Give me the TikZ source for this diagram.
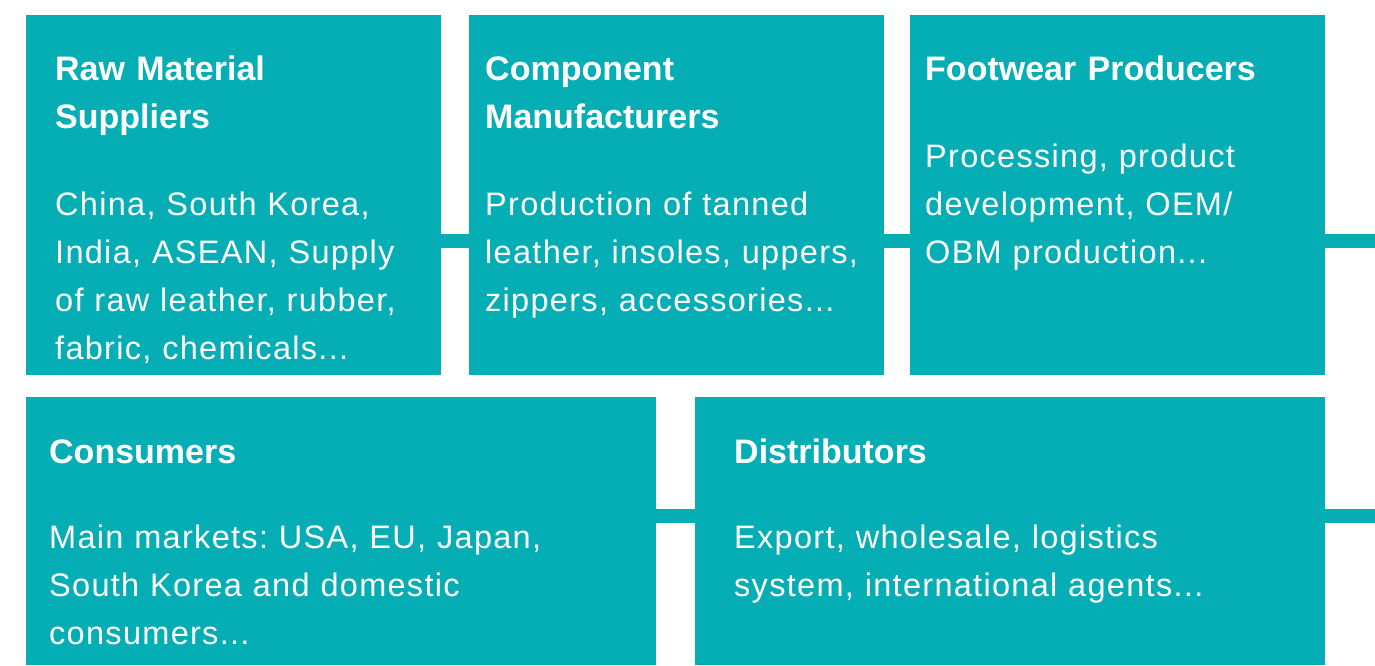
\documentclass[tikz,border=0pt]{standalone}
\usepackage{fontspec}
\setmainfont{Liberation Sans}
\newfontfamily\bodyfont[LetterSpace=4]{Liberation Sans}
\definecolor{teal}{RGB}{5,173,180}
\frenchspacing
\begin{document}
\begin{tikzpicture}[x=1pt,y=-1pt,
  box/.style={fill=teal,draw=none,inner sep=0pt,outer sep=0pt},
  conn/.style={draw=teal,line width=14pt},
  title/.style={anchor=base west,inner sep=0pt,text=white,text width=600pt,align=left,
    font=\fontsize{34}{48}\selectfont\bfseries},
  body/.style={anchor=base west,inner sep=0pt,text=white,text width=600pt,align=left,
    font=\bodyfont\fontsize{32.5}{48}\selectfont}]
\useasboundingbox (0,0) rectangle (1375,665);

% stage boxes
\node[box,minimum width=415pt,minimum height=360pt] (raw)  at (233.5,195) {};
\node[box,minimum width=415pt,minimum height=360pt] (comp) at (676.5,195) {};
\node[box,minimum width=415pt,minimum height=360pt] (prod) at (1117.5,195) {};
\node[box,minimum width=630pt,minimum height=268pt] (cons) at (341,531) {};
\node[box,minimum width=630pt,minimum height=268pt] (dist) at (1010,531) {};

% free ends of the outgoing links
\coordinate (outA) at (1375,241);
\coordinate (outB) at (1375,515.5);

% links between stages
\draw[conn] ([yshift=-46pt]raw.east) -- ([yshift=-46pt]comp.west);
\draw[conn] ([yshift=-46pt]comp.east) -- ([yshift=-46pt]prod.west);
\draw[conn] ([yshift=-46pt]prod.east) -- (outA);
\draw[conn] ([yshift=15.5pt]cons.east) -- ([yshift=15.5pt]dist.west);
\draw[conn] ([yshift=15.5pt]dist.east) -- (outB);

% titles
\node[title] (rawT)  at (55,80)   {Raw Material\\Suppliers};
\node[title] (compT) at (485,80)  {Component\\Manufacturers};
\node[title] (prodT) at (925,80)  {Footwear Producers};
\node[title] (consT) at (49,463)  {Consumers};
\node[title] (distT) at (734,463) {Distributors};

% descriptions
\node[body] (rawB)  at (55,215)  {China, South Korea,\\India, ASEAN, Supply\\of raw leather, rubber,\\fabric, chemicals...};
\node[body] (compB) at (485,215) {Production of tanned\\leather, insoles, uppers,\\zippers, accessories...};
\node[body] (prodB) at (925,167) {Processing, product\\development, OEM/\\OBM production...};
\node[body] (consB) at (49,548)  {Main markets: USA, EU, Japan,\\South Korea and domestic\\consumers...};
\node[body] (distB) at (734,548) {Export, wholesale, logistics\\system, international agents...};
\end{tikzpicture}
\end{document}
